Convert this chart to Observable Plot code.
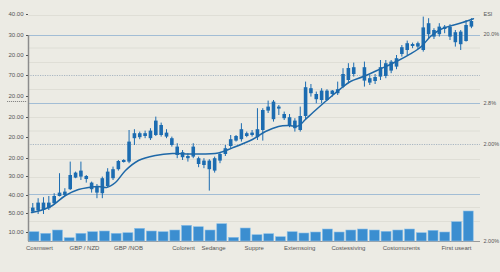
<!DOCTYPE html>
<html>
<head>
<meta charset="utf-8">
<script src="https://cdn.jsdelivr.net/npm/d3@7"></script>
<script src="https://cdn.jsdelivr.net/npm/@observablehq/plot@0.6"></script>
<style>
html,body{margin:0;padding:0;background:#ecebe4;}
#chart{width:500px;height:272px;overflow:hidden;}
</style>
</head>
<body>
<div id="chart"></div>
<script>
// ---- Candles (one entry per trading slot; null = no candle) ----
const candleOpen = [14.7,15.5,15.5,16.4,18.9,22.5,23,25.9,31.7,32.2,31,25.9,24.2,23.9,27.5,31.4,35.9,39.5,39.7,51.4,51.9,52.5,51.4,53,53,52.2,48,43,41.9,41.4,42.2,38.5,38,35.9,35.2,40.2,43.5,47.5,50.2,50.9,52.5,53,51.9,55.5,65.2,60.9,66.2,61.4,57.5,56.4,55.5,62.5,73.9,70.9,70.5,70.5,73.5,73.9,77.2,80.5,83.5,null,80.2,79.2,80,82.2,82.5,85.2,87.2,93.5,95.5,97.5,97.2,95.5,103.4,102.2,103.4,106,102.2,99.4,98.4,100,107.2];
const candleClose = [16.7,19.2,19.2,19.2,22.5,24.2,24.7,33,34.2,35.2,32.5,29.2,27.5,31.4,34.7,35.9,40,40.5,49.7,53.9,53.9,53.9,55.2,60.2,58,54.2,51.4,47.2,44.4,42.5,47.2,41.4,40.2,40.2,41.4,43.5,46.4,50.9,52.5,55.9,53.9,54.2,55.9,65.5,67.2,69.7,67.2,63.5,61.9,60.2,62.5,76.9,76.4,73.5,75.2,75.2,75.2,75.9,83.5,86.5,86.9,null,86.9,81.4,82,86.9,88.9,89.7,91.4,96.9,98.9,98.5,98.9,106.8,108.9,105.5,107.2,107.2,107.2,104.4,104.7,108,110];
const candleHigh = [19,21.4,21.9,22.5,23.9,33.9,26.4,39.7,34.7,39.7,33,29.7,28.5,32.2,36.4,37.2,40.5,40.9,55.5,55.9,54.7,55.2,56.4,62.2,59.2,55.9,52.2,48.9,45.5,43.9,48.9,42.2,41.4,40.9,42.2,44.2,48,53,53,58.9,54.7,55.5,66.4,66.4,70.2,70.5,68,64.7,63.5,61.4,67.2,79.7,78.5,74.7,76.4,75.9,75.5,79.7,86.4,88.9,89.2,null,89.7,83,83.5,90.5,90.5,90.5,93,98,100.2,99.2,99.7,112.2,111.4,106.4,108.9,108,108.4,105.5,105.5,110.5,111.4];
const candleLow = [13.9,13.5,13.5,15.5,18,22.3,22.5,25.5,31.4,30.5,29.2,24.2,21.4,21.4,27,30.5,35.2,39.2,38.9,48,50.9,51.4,50.5,52.5,52.2,51.4,47.2,41.4,40.5,39.7,41.4,36.9,36.4,25.2,34.2,38.9,42.5,46.4,49.7,49.7,51.9,52.2,50.5,50.2,64,59.7,63,60.5,56.9,54.7,54.7,60.9,72.2,68.9,68.9,70.2,72.2,73,76.4,78.9,82.2,null,77.2,78,78.5,80.5,81.4,83.9,85.9,92.2,93,96.4,95.9,94.7,101.4,101,102.2,103.9,100.5,97.2,95.5,99.7,106.4];

// ---- Moving average (slot, value) ----
const maSlot  = [-0.24,2.0,3.68,6.11,8.54,10.41,12.28,13.78,15.46,17.33,19.76,22.94,26.11,29.48,34.7,37.33,41.06,43.5,45.93,47.8,49.67,50.97,53.21,56.02,57.51,59.38,61.81,64.99,67.98,70.6,72.65,74.34,76.21,78.08,80.32,82.38];
const maValue = [14.5,16,18,23,26,27,27.5,27,29.5,35.5,40.5,43,44,43.8,44.3,46.8,51,55,57.5,58,57.8,61,66.5,73,76.3,80,82.5,86.3,90,93.8,97.5,102.5,106,107.8,109.5,111.4];

// ---- Volume bars ----
const volume = [4.65,3.85,5.5,1.65,3.85,4.65,5,3.85,4.15,6.35,5,4.65,5.5,7.85,7.15,5.5,8.65,1.85,6.5,3.15,3.65,2.15,4.65,4,4.5,6,4.5,5.5,6,5.5,4.85,5.5,6,4.15,5.35,4.5,9.65,15];
const volumeStart = 0.32, volumeStep = 2.194, volumeHalfWidth = 0.935;

// ---- Axis labels ----
const xLabelPos = [1.25,9.66,17.9,28.2,33.8,41.4,49.9,59.0,68.9,79.2];
const xLabels = ["Cosmwert","GBP / NZD","GBP /NOB","Colorent","Sedange","Suppre","Extemsoing","Costessiving","Costomurents","First useart"];
const yLeftVals = [113.5,103,93,83,72.5,62,52,41.5,32.5,23,14,4.5];
const yLeftLabels = ["40.00","30.00","20.00","70.00","20.00","20.00","20.00","20.00","30.00","40.00","50.00","10.00"];
const yRightVals = [113.5,103.5,69,48.5,0];
const yRightLabels = ["ESI","20.0%","2.8%","2.00%","2.00%"];

// ---- Reference lines ----
const faintGrid = [113,96.75,89.5,76,62,55.25,41,32,17,10];
const solidLines = [103,69,23.5];
const dottedLines = [83,48.5];

const candles = candleOpen.map((o,i)=>({slot:i,open:o,close:candleClose[i],high:candleHigh[i],low:candleLow[i]})).filter(d=>d.open!=null);
const ma = maSlot.map((s,i)=>({slot:s,value:maValue[i]}));
const vols = volume.map((v,j)=>({x1:volumeStart+volumeStep*j-volumeHalfWidth,x2:volumeStart+volumeStep*j+volumeHalfWidth,v}));
const yLeftMap = new Map(yLeftVals.map((v,i)=>[v,yLeftLabels[i]]));
const yRightMap = new Map(yRightVals.map((v,i)=>[v,yRightLabels[i]]));
const xMap = new Map(xLabelPos.map((v,i)=>[v,xLabels[i]]));

const blue = "#1c6cb1";
const chart = Plot.plot({
  width: 500, height: 272,
  marginLeft: 28, marginRight: 20, marginTop: 9, marginBottom: 31,
  x: {domain: [-0.8, 83.7]},
  y: {domain: [0, 116]},
  style: {background: "#ecebe4", fontFamily: "Liberation Sans, Arial, sans-serif", fontSize: "6px"},
  marks: [
    Plot.ruleY(faintGrid, {stroke: "#dcdbd2", strokeWidth: 0.8}),
    Plot.ruleY(solidLines, {stroke: "#a2bdd5", strokeWidth: 1}),
    Plot.ruleY(dottedLines, {stroke: "#a9b6c2", strokeWidth: 1, strokeDasharray: "1.2,1.2"}),
    Plot.ruleY([70], {x1: -4.7, x2: -1.0, stroke: "#777", strokeWidth: 1, strokeDasharray: "1,1"}),
    Plot.ruleY([0], {stroke: "#9a9a9a", strokeWidth: 1}),
    Plot.ruleX([-0.8], {y1: 0, y2: 103, stroke: "#8c8c8c", strokeWidth: 1.5}),
    Plot.rectY(vols, {x1: "x1", x2: "x2", y: "v", fill: "#3b8ed0", stroke: "#8cc0e8", strokeWidth: 0.6}),
    Plot.ruleX(candles, {x: "slot", y1: "low", y2: "high", stroke: blue, strokeWidth: 1}),
    Plot.ruleX(candles, {x: "slot", y1: "open", y2: "close", stroke: blue, strokeWidth: 3.6}),
    Plot.line(ma, {x: "slot", y: "value", curve: "catmull-rom", stroke: "#1e68a8", strokeWidth: 1.5}),
    Plot.axisY({anchor: "left", ticks: yLeftVals, tickFormat: d => yLeftMap.get(d), tickSize: 2, tickPadding: 3, color: "#555", fontSize: 6, label: null}),
    Plot.axisY({anchor: "right", ticks: yRightVals, tickFormat: d => yRightMap.get(d), tickSize: 0, tickPadding: 3, color: "#555", fontSize: 5.5, label: null}),
    Plot.axisX({ticks: xLabelPos, tickFormat: d => xMap.get(d), tickSize: 0, tickPadding: 4, color: "#555", fontSize: 6, label: null})
  ]
});
document.getElementById("chart").append(chart);
</script>
</body>
</html>
